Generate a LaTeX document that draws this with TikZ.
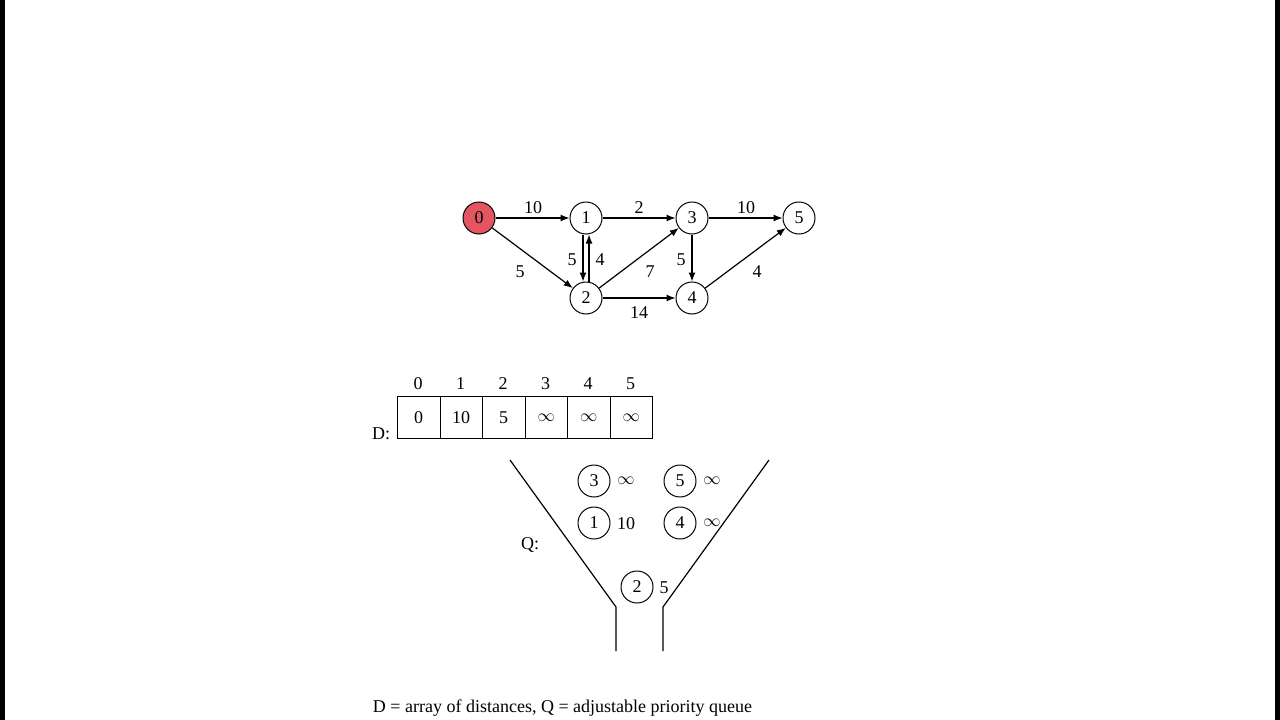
\documentclass[tikz,border=0pt]{standalone}
\usepackage{fontspec}
\setmainfont{Liberation Serif}
\usetikzlibrary{arrows.meta}
\newcommand{\inftysym}{$\infty$}
\begin{document}
\begin{tikzpicture}[x=1pt,y=-1pt,
  vert/.style={circle,draw,line width=1pt,minimum size=32pt,inner sep=0pt,font=\fontsize{18}{20}\selectfont},
  qv/.style={circle,draw,line width=1pt,minimum size=32pt,inner sep=0pt,font=\fontsize{18}{20}\selectfont},
  edge/.style={line width=1.2pt,-{Latex[length=9pt,width=7pt]}},
  lbl/.style={font=\fontsize{18}{20}\selectfont,inner sep=0pt},
  cell/.style={draw,line width=0.9pt,minimum width=42.5pt,minimum height=42pt,inner sep=0pt,font=\fontsize{18}{20}\selectfont,anchor=north west},
  funnel/.style={line width=1.2pt}]
\useasboundingbox (0,0) rectangle (1280,720);
\fill[white] (0,0) rectangle (1280,720);
\fill[black] (0,0) rectangle (5,720);
\fill[black] (1275,0) rectangle (1280,720);
% graph
\node[vert,fill={rgb,255:red,228;green,85;blue,98}] (n0) at (479,218) {0};
\node[vert] (n1) at (586,218) {1};
\node[vert] (n3) at (692,218) {3};
\node[vert] (n5) at (799,218) {5};
\node[vert] (n2) at (586,298) {2};
\node[vert] (n4) at (692,298) {4};
\draw[edge] (n0) -- (n1);
\draw[edge] (n1) -- (n3);
\draw[edge] (n3) -- (n5);
\draw[edge] (n0) -- (n2);
\draw[edge] ([xshift=-3pt]n1.south) -- ([xshift=-3pt]n2.north);
\draw[edge] ([xshift=3pt]n2.north) -- ([xshift=3pt]n1.south);
\draw[edge] (n2) -- (n3);
\draw[edge] (n2) -- (n4);
\draw[edge] (n3) -- (n4);
\draw[edge] (n4) -- (n5);
\node[lbl] (l01) at (533,208) {10};
\node[lbl] (l13) at (639,208) {2};
\node[lbl] (l35) at (746,208) {10};
\node[lbl] (l02) at (520,272) {5};
\node[lbl] (l12) at (572,260) {5};
\node[lbl] (l21) at (600,260) {4};
\node[lbl] (l23) at (650,272) {7};
\node[lbl] (l24) at (639,313) {14};
\node[lbl] (l34) at (681,260) {5};
\node[lbl] (l45) at (757,272) {4};
% array
\foreach \i/\v in {0/0,1/10,2/5,3/\inftysym,4/\inftysym,5/\inftysym}{
  \node[cell] (c\i) at (397+42.5*\i,396) {\v};
  \node[lbl] (h\i) at (418+42.5*\i,384) {\i};
}
\node[lbl] (dlab) at (381,434) {D:};
% funnel
\coordinate (fl1) at (510,460);
\coordinate (fl2) at (616,607);
\coordinate (fl3) at (616,651);
\coordinate (fr1) at (769,460);
\coordinate (fr2) at (663,607);
\coordinate (fr3) at (663,651);
\draw[funnel] (fl1) -- (fl2) -- (fl3);
\draw[funnel] (fr1) -- (fr2) -- (fr3);
\node[lbl] (qlab) at (530,545) {Q:};
\node[qv] (q3) at (594,481) {3};
\node[qv] (q5) at (680,481) {5};
\node[qv] (q1) at (594,523) {1};
\node[qv] (q4) at (680,523) {4};
\node[qv] (q2) at (637,587) {2};
\node[lbl] (k3) at (626,481) {\inftysym};
\node[lbl] (k5) at (712,481) {\inftysym};
\node[lbl] (k1) at (626,524) {10};
\node[lbl] (k4) at (712,523) {\inftysym};
\node[lbl] (k2) at (664,588) {5};
% caption
\node[lbl] (cap) at (562.5,708) {D = array of distances, Q = adjustable priority queue};
\end{tikzpicture}
\end{document}
